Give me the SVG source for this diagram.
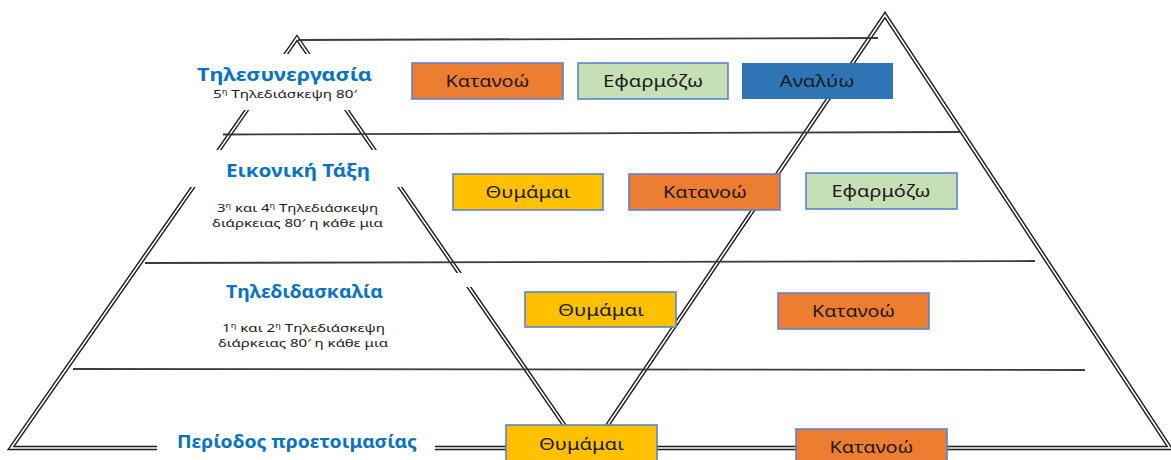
<svg xmlns="http://www.w3.org/2000/svg" width="1171" height="460" viewBox="0 0 1171 460">
<style>
.dbl-o{fill:none;stroke:#1a1a1a;stroke-width:4.4;stroke-linejoin:miter;stroke-miterlimit:20}
.dbl-i{fill:none;stroke:#ffffff;stroke-width:1.6;stroke-linejoin:miter;stroke-miterlimit:20}
.hl{stroke:#3c3c3c;stroke-width:1.8;fill:none}
.cover{fill:#ffffff}
.box{stroke:#5b83d1;stroke-width:1.6}
.bt{font-family:"Noto Sans","DejaVu Sans",sans-serif;font-size:17px;fill:#1a1a1a;text-anchor:middle}
.ttl{font-family:"Noto Sans","DejaVu Sans",sans-serif;font-size:17px;font-weight:bold;fill:#0a72c2;text-anchor:middle}
.sub{font-family:"Noto Sans","DejaVu Sans",sans-serif;font-size:11.5px;fill:#1a1a1a;text-anchor:middle}
.or{fill:#ed7d31}.gr{fill:#c5e0b4}.bl{fill:#2e75b6}.ye{fill:#ffc000}
</style>
<rect width="1171" height="460" fill="#ffffff"/>
<g id="connectors">
  <path class="dbl-o" d="M580,448 L11,448 L297,38 Z"/>
  <path class="dbl-i" d="M580,448 L11,448 L297,38 Z"/>
  <path class="dbl-o" d="M592,448 L885,15 L1170,448 Z"/>
  <path class="dbl-i" d="M592,448 L885,15 L1170,448 Z"/>
  <line class="hl" x1="298" y1="40" x2="878" y2="38"/>
  <line class="hl" x1="223" y1="134.5" x2="960" y2="132"/>
  <line class="hl" x1="145" y1="263" x2="1035" y2="261"/>
  <line class="hl" x1="73" y1="369" x2="1085" y2="370"/>
</g>
<g id="label-tilesynergasia">
  <rect class="cover" x="200" y="54" width="200" height="56"/>
  <text class="ttl" x="284.5" y="81" textLength="175" lengthAdjust="spacingAndGlyphs">Τηλεσυνεργασία</text>
  <text class="sub" x="285" y="98" textLength="144" lengthAdjust="spacingAndGlyphs">5<tspan font-size="7" dy="-4">η</tspan><tspan dy="4"> Τηλεδιάσκεψη 80′</tspan></text>
</g>
<g id="label-eikoniki">
  <rect class="cover" x="185" y="150" width="225" height="37"/>
  <text class="ttl" x="298" y="177" textLength="144" lengthAdjust="spacingAndGlyphs">Εικονική Τάξη</text>
  <text class="sub" x="297.5" y="212" textLength="161" lengthAdjust="spacingAndGlyphs">3<tspan font-size="7" dy="-4">η</tspan><tspan dy="4"> και 4</tspan><tspan font-size="7" dy="-4">η</tspan><tspan dy="4"> Τηλεδιάσκεψη</tspan></text>
  <text class="sub" x="297.5" y="227" textLength="171" lengthAdjust="spacingAndGlyphs">διάρκειας 80′ η κάθε μια</text>
</g>
<g id="label-tilediaskalia">
  <rect class="cover" x="200" y="273" width="276" height="14"/>
  <text class="ttl" x="304.5" y="298" textLength="157" lengthAdjust="spacingAndGlyphs">Τηλεδιδασκαλία</text>
  <text class="sub" x="303.5" y="332" textLength="163" lengthAdjust="spacingAndGlyphs">1<tspan font-size="7" dy="-4">η</tspan><tspan dy="4"> και 2</tspan><tspan font-size="7" dy="-4">η</tspan><tspan dy="4"> Τηλεδιάσκεψη</tspan></text>
  <text class="sub" x="303" y="347" textLength="170" lengthAdjust="spacingAndGlyphs">διάρκειας 80′ η κάθε μια</text>
</g>
<g id="label-proetoimasia">
  <rect class="cover" x="157" y="432" width="278" height="28"/>
  <text class="ttl" x="297" y="448" textLength="240" lengthAdjust="spacingAndGlyphs">Περίοδος προετοιμασίας</text>
</g>
<g id="r1-katanoo"><rect class="box or" x="412" y="63" width="151" height="36"/><text class="bt" x="487.5" y="87" textLength="84" lengthAdjust="spacingAndGlyphs">Κατανοώ</text></g>
<g id="r1-efarmozo"><rect class="box gr" x="578" y="63" width="150" height="36"/><text class="bt" x="653" y="87" textLength="100" lengthAdjust="spacingAndGlyphs">Εφαρμόζω</text></g>
<g id="r1-analyo"><rect class="bl" x="742" y="63" width="151" height="36"/><text class="bt" x="817" y="87" textLength="75" lengthAdjust="spacingAndGlyphs">Αναλύω</text></g>
<g id="r2-thymamai"><rect class="box ye" x="453" y="174" width="150" height="36"/><text class="bt" x="528" y="198" textLength="85" lengthAdjust="spacingAndGlyphs">Θυμάμαι</text></g>
<g id="r2-katanoo"><rect class="box or" x="629" y="174" width="151" height="36"/><text class="bt" x="705" y="198" textLength="84" lengthAdjust="spacingAndGlyphs">Κατανοώ</text></g>
<g id="r2-efarmozo"><rect class="box gr" x="806" y="173" width="151" height="36"/><text class="bt" x="881" y="197" textLength="99" lengthAdjust="spacingAndGlyphs">Εφαρμόζω</text></g>
<g id="r3-thymamai"><rect class="box ye" x="525" y="292" width="151" height="35"/><text class="bt" x="601" y="316" textLength="86" lengthAdjust="spacingAndGlyphs">Θυμάμαι</text></g>
<g id="r3-katanoo"><rect class="box or" x="778" y="293" width="151" height="36"/><text class="bt" x="853.5" y="317" textLength="83" lengthAdjust="spacingAndGlyphs">Κατανοώ</text></g>
<g id="r4-thymamai"><rect class="box ye" x="506" y="425" width="151" height="40"/><text class="bt" x="581.5" y="450" textLength="85" lengthAdjust="spacingAndGlyphs">Θυμάμαι</text></g>
<g id="r4-katanoo"><rect class="box or" x="796" y="429" width="151" height="36"/><text class="bt" x="871.5" y="453" textLength="84" lengthAdjust="spacingAndGlyphs">Κατανοώ</text></g>
</svg>
